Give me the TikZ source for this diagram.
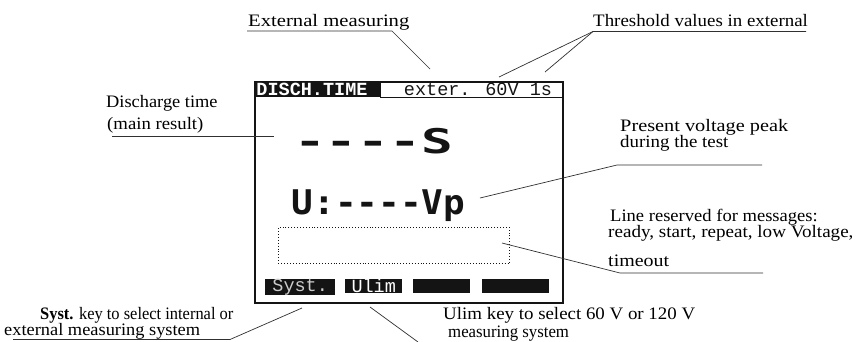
\documentclass[tikz,border=0pt]{standalone}
\usepackage{fontspec}
\setmainfont{Liberation Serif}
\newfontfamily\lcdfont{Liberation Mono}
\newfontfamily\lcdbig{DejaVu Sans Mono}
\definecolor{lcdblack}{HTML}{141414}
\definecolor{leadgray}{HTML}{303030}
\begin{document}
\begin{tikzpicture}[x=1pt,y=-1pt,
  ann/.style={anchor=base west, inner sep=0pt, font=\fontsize{17.5}{17.5}\selectfont},
  lead/.style={draw=leadgray, line width=0.7pt},
  lcdsmall/.style={font=\lcdfont\bfseries\fontsize{18.5}{18.5}\selectfont, inner sep=0pt},
  lcdlarge/.style={font=\lcdbig\bfseries\fontsize{34}{34}\selectfont, inner sep=0pt, anchor=base},
  softkey/.style={fill=lcdblack, anchor=north west, inner sep=0pt, minimum height=14pt,
    lcdsmall, font=\lcdfont\fontsize{18.5}{18.5}\selectfont}
]
\useasboundingbox (0,0) rectangle (856,341);

% ---------- LCD screen ----------
\node[draw=lcdblack, line width=1.6pt, anchor=north west, inner sep=0pt,
      minimum width=308pt, minimum height=221pt] (lcd) at (254,81) {};
\node[fill=lcdblack, anchor=north west, inner sep=0pt, minimum width=126pt,
      minimum height=16pt] (hdrbox) at (254,81) {};
\node[lcdsmall, text=white] (hdr) at (312,89.5) {DISCH.TIME};
\node[draw=lcdblack, line width=1pt, anchor=north west, inner sep=0pt,
      minimum width=182pt, minimum height=16pt] (thrbox) at (380,81) {};
\node[lcdsmall, font=\lcdfont\fontsize{18.5}{18.5}\selectfont, text=lcdblack] (thr) at (478,89.5) {exter. 60V 1s};

\node[lcdlarge, xscale=1.55, text=lcdblack] (res) at (373.5,153) {----S};
\node[lcdlarge, xscale=1.06, text=lcdblack] (volt) at (378.5,214) {U:----Vp};

\node[draw=lcdblack, dotted, line width=0.9pt, anchor=north west, inner sep=0pt,
      minimum width=231pt, minimum height=36pt] (msg) at (278,227) {};

\node[softkey, minimum width=70pt, text=gray!40] (k1) at (265,279) {Syst.};
\node[softkey, minimum width=57pt, text=white] (k2) at (345,279) {Ulim};
\node[softkey, minimum width=57pt] (k3) at (413,279) {};
\node[softkey, minimum width=67pt] (k4) at (482,279) {};

% ---------- annotations ----------
\node[ann, xscale=1.18] (aext) at (248,26.5) {External measuring};
\coordinate (aextL) at (247,31);
\coordinate (aextR) at (392,31);
\coordinate (aextT) at (430,69);
\draw[lead] (aextL) -- (aextR) -- (aextT);

\node[ann, xscale=1.08] (athr) at (593,26.5) {Threshold values in external};
\coordinate (athrL) at (593,31.5);
\coordinate (athrR) at (806,31.5);
\coordinate (athrT1) at (499,77);
\coordinate (athrT2) at (545,72);
\draw[lead] (athrR) -- (athrL) -- (athrT1);
\draw[lead] (athrL) -- (athrT2);

\node[ann, xscale=1.05] (adis1) at (106,107) {Discharge time};
\node[ann, xscale=1.07] (adis2) at (107,129) {(main result)};
\coordinate (adisL) at (112,136);
\coordinate (adisR) at (274,136);
\draw[lead] (adisL) -- (adisR);

\node[ann, xscale=1.16] (apv1) at (620,131) {Present voltage peak};
\node[ann, xscale=1.08] (apv2) at (620,147) {during the test};
\coordinate (apvL) at (617,165);
\coordinate (apvR) at (762,165);
\coordinate (apvT) at (480,198);
\draw[lead] (apvR) -- (apvL) -- (apvT);

\node[ann, xscale=1.06] (alr1) at (610,221) {Line reserved for messages:};
\node[ann, xscale=1.09] (alr2) at (608,237) {ready, start, repeat, low Voltage,};
\node[ann, xscale=1.14] (alr3) at (608,266) {timeout};
\coordinate (alrL) at (620,273);
\coordinate (alrR) at (763,273);
\coordinate (alrT) at (502,243);
\draw[lead] (alrR) -- (alrL) -- (alrT);

\node[ann, xscale=0.94] (asy1) at (40,319) {\textbf{Syst.} key to select internal or};
\node[ann, xscale=1.05] (asy2) at (4,335.5) {external measuring system};
\coordinate (asyL) at (13,339.5);
\coordinate (asyR) at (230,339.5);
\coordinate (asyT) at (302,308);
\draw[lead] (asyL) -- (asyR) -- (asyT);

\node[ann, xscale=1.08] (aul1) at (443,319) {Ulim key to select 60 V or 120 V};
\node[ann, xscale=0.96] (aul2) at (448,337) {measuring system};
\coordinate (aulT) at (370,307);
\coordinate (aulB) at (418,342);
\draw[lead] (aulT) -- (aulB);
\end{tikzpicture}
\end{document}
